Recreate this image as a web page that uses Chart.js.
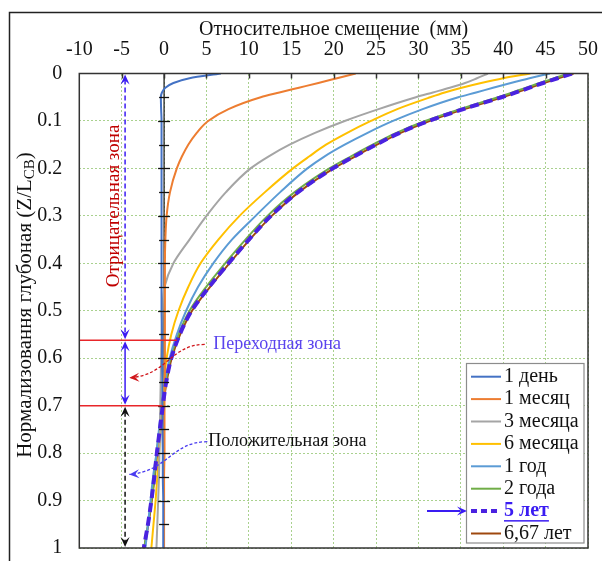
<!DOCTYPE html>
<html lang="ru">
<head>
<meta charset="utf-8">
<title>Относительное смещение</title>
<script src="https://cdn.jsdelivr.net/npm/chart.js@4.4.1/dist/chart.umd.min.js"></script>
<style>
    html, body { margin: 0; padding: 0; background: #fff; }
    #wrap { position: relative; width: 602px; height: 561px; }
</style>
</head>
<body>
<div id="wrap"><canvas id="displacementChart" width="602" height="561"></canvas></div>
<script>
    // Normalized depth Z/L_CB (shared by every curve)
    var depth = [0, 0.01, 0.02, 0.03, 0.04, 0.05, 0.075, 0.1, 0.125, 0.15, 0.175, 0.2,
        0.25, 0.3, 0.35, 0.4, 0.45, 0.5, 0.55, 0.6, 0.65, 0.7, 0.75, 0.8, 0.85, 0.9, 0.95, 1];

    // Relative displacement, mm
    var day1 = [6.7, 3.0, 1.1, 0.15, -0.25, -0.38, -0.35, -0.3, -0.3, -0.3, -0.3, -0.3,
        -0.3, -0.3, -0.3, -0.3, -0.3, -0.3, -0.25, -0.25, -0.2, -0.2, -0.2, -0.15, -0.15, -0.1, -0.1, -0.1];
    var month1 = [22.6, 20.4, 18.2, 15.9, 13.6, 11.4, 7.6, 5.2, 3.85, 2.85, 2.1, 1.5,
        0.7, 0.3, 0.15, 0.1, 0.1, 0.1, 0.1, 0.1, 0.1, 0.05, 0.05, 0.05, 0, 0, 0, 0];
    var month3 = [38.2, 36.9, 35.5, 33.7, 31.7, 29.7, 25.3, 21.3, 17.8, 14.8, 12.3, 10.2,
        7.3, 5.0, 3.0, 1.1, 0.05, -0.2, -0.3, -0.35, -0.4, -0.45, -0.5, -0.55, -0.6, -0.7, -0.8, -0.9];
    var month6 = [43.2, 40.0, 37.4, 35.1, 33.1, 31.4, 27.5, 24.4, 21.6, 19.1, 17.1, 15.2,
        11.9, 8.9, 6.4, 4.3, 2.85, 1.7, 0.85, 0.3, 0.0, -0.2, -0.4, -0.6, -0.8, -1.0, -1.25, -1.5];
    var year1 = [45.5, 43.1, 40.9, 38.8, 36.8, 34.7, 30.5, 27.0, 24.0, 21.3, 18.9, 16.9,
        13.7, 10.8, 8.0, 5.8, 4.0, 2.6, 1.5, 0.65, 0.1, -0.3, -0.6, -0.9, -1.3, -1.6, -1.9, -2.2];
    var year2 = [47.7, 46.0, 44.3, 42.7, 41.1, 39.4, 34.9, 30.8, 27.4, 24.6, 22.0, 19.5,
        15.4, 12.2, 9.6, 7.2, 4.95, 3.0, 1.7, 0.75, 0.2, -0.2, -0.55, -0.9, -1.15, -1.5, -1.9, -2.35];
    var year5 = [48.1, 46.4, 44.7, 43.1, 41.5, 39.8, 35.3, 31.2, 27.8, 25.0, 22.4, 19.9,
        15.8, 12.6, 10.0, 7.6, 5.3, 3.25, 1.85, 0.85, 0.25, -0.15, -0.5, -0.85, -1.15, -1.5, -1.9, -2.4];
    var year667 = [48.3, 46.5, 44.8, 43.2, 41.6, 39.9, 35.4, 31.3, 27.9, 25.1, 22.5, 20.0,
        15.9, 12.7, 10.1, 7.7, 5.4, 3.3, 1.9, 0.9, 0.3, -0.1, -0.45, -0.8, -1.1, -1.45, -1.85, -2.35];

    var seriesLabels = ['1 день', '1 месяц', '3 месяца', '6 месяца', '1 год', '2 года', '5 лет', '6,67 лет'];
    var seriesValues = [day1, month1, month3, month6, year1, year2, year5, year667];
    var seriesColors = ['#4472c4', '#ed7d31', '#a5a5a5', '#ffc000', '#5b9bd5', '#70ad47', '#4a22e0', '#9e480e'];

    // Axis ticks
    var xMin = -10, xMax = 50, xStep = 5;
    var yMin = 0, yMax = 1, yStep = 0.1;

    // Zone markers: boundaries and label positions, in data units
    var zoneBounds = [0.562, 0.7];
    var zoneArrowX = -4.6;

    var SERIF = "'Liberation Serif', 'Times New Roman', serif";
    var ARROW_BLUE = '#3a1cf2';

    function toPoints(values) {
        return values.map(function(v, i) { return { x: v, y: depth[i] }; });
    }

    var datasets = seriesValues.map(function(values, i) {
        var isFiveYears = seriesLabels[i] === '5 лет';
        return {
            label: seriesLabels[i],
            data: toPoints(values),
            borderColor: seriesColors[i],
            borderWidth: isFiveYears ? 4 : 2,
            borderDash: isFiveYears ? [9, 5] : [],
            pointRadius: 0,
            cubicInterpolationMode: 'monotone',
            fill: false,
            order: isFiveYears ? 0 : 1
        };
    });

    // Excel-like stealth arrow head with its tip at (x, y)
    function arrowHead(ctx, x, y, angle, color) {
        ctx.save();
        ctx.translate(x, y);
        ctx.rotate(angle);
        ctx.beginPath();
        ctx.moveTo(0, 0);
        ctx.lineTo(-10, -4.5);
        ctx.lineTo(-6, 0);
        ctx.lineTo(-10, 4.5);
        ctx.closePath();
        ctx.fillStyle = color;
        ctx.fill();
        ctx.restore();
    }

    function doubleArrow(ctx, x, y1, y2, color, dash) {
        ctx.save();
        ctx.strokeStyle = color;
        ctx.lineWidth = 1.5;
        ctx.setLineDash(dash);
        ctx.beginPath();
        ctx.moveTo(x, y1 + 5);
        ctx.lineTo(x, y2 - 5);
        ctx.stroke();
        ctx.restore();
        arrowHead(ctx, x, y1, -Math.PI / 2, color);
        arrowHead(ctx, x, y2, Math.PI / 2, color);
    }

    function curvedArrow(ctx, pts, color) {
        ctx.save();
        ctx.strokeStyle = color;
        ctx.lineWidth = 1.3;
        ctx.setLineDash([3, 2]);
        ctx.beginPath();
        ctx.moveTo(pts[0][0], pts[0][1]);
        ctx.bezierCurveTo(pts[1][0], pts[1][1], pts[2][0], pts[2][1], pts[3][0], pts[3][1]);
        ctx.stroke();
        ctx.restore();
        var ang = Math.atan2(pts[3][1] - pts[2][1], pts[3][0] - pts[2][0]);
        arrowHead(ctx, pts[3][0], pts[3][1], ang, color);
    }

    var backgroundPlugin = {
        id: 'plotBackground',
        beforeDatasetsDraw: function(chart) {
            var ctx = chart.ctx, xs = chart.scales.x, ys = chart.scales.y;
            var x0 = xs.getPixelForValue(0);
            // vertical axis through zero displacement
            ctx.save();
            ctx.strokeStyle = '#222';
            ctx.lineWidth = 1.3;
            ctx.beginPath();
            ctx.moveTo(x0, ys.top);
            ctx.lineTo(x0, ys.bottom);
            ctx.stroke();
            ctx.restore();
        }
    };

    var overlayPlugin = {
        id: 'overlay',
        afterDatasetsDraw: function(chart) {
            var ctx = chart.ctx, xs = chart.scales.x, ys = chart.scales.y;
            var area = chart.chartArea;
            var px = function(v) { return xs.getPixelForValue(v); };
            var py = function(v) { return ys.getPixelForValue(v); };
            var i;

            ctx.save();

            // ticks on the zero axis
            var x0 = px(0);
            ctx.strokeStyle = '#111';
            ctx.lineWidth = 1.3;
            for (i = 1; i < 20; i++) {
                var half = (i % 2 === 0) ? 6 : 5;
                var ty = Math.round(py(i * 0.05)) + 0.5;
                ctx.beginPath();
                ctx.moveTo(x0 - half, ty);
                ctx.lineTo(x0 + half, ty);
                ctx.stroke();
            }

            // zone boundaries
            ctx.strokeStyle = '#e8262a';
            ctx.lineWidth = 1.5;
            ctx.beginPath();
            ctx.moveTo(area.left, py(zoneBounds[0]));
            ctx.lineTo(px(1.5), py(zoneBounds[0]));
            ctx.moveTo(area.left, py(zoneBounds[1]));
            ctx.lineTo(px(-0.2), py(zoneBounds[1]));
            ctx.stroke();

            // zone arrows
            var ax = px(zoneArrowX);
            doubleArrow(ctx, ax, py(0) + 1, py(zoneBounds[0]) - 1, ARROW_BLUE, [5, 3]);
            doubleArrow(ctx, ax, py(zoneBounds[0]) + 1, py(zoneBounds[1]) - 1, ARROW_BLUE, []);
            doubleArrow(ctx, ax, py(zoneBounds[1]) + 1, py(1) - 1, '#111', [5, 3]);

            // pointers from the zone captions
            curvedArrow(ctx, [[px(4.8), py(0.571)], [px(0.7), py(0.571)], [px(0.4), py(0.637)], [px(-4.1), py(0.641)]], '#d0161b');
            curvedArrow(ctx, [[px(5.1), py(0.776)], [px(0.9), py(0.776)], [px(0.4), py(0.839)], [px(-4.1), py(0.845)]], '#4a3cf0');

            // zone captions
            ctx.font = '18px ' + SERIF;
            ctx.textBaseline = 'middle';
            ctx.textAlign = 'left';
            ctx.fillStyle = '#5a44ee';
            ctx.fillText('Переходная зона', px(5.8), py(0.571));
            ctx.fillStyle = '#111';
            ctx.fillText('Положительная зона', px(5.2), py(0.776));

            ctx.save();
            ctx.translate(px(-5.9), py(0.279));
            ctx.rotate(-Math.PI / 2);
            ctx.textAlign = 'center';
            ctx.font = '19px ' + SERIF;
            ctx.fillStyle = '#c00000';
            ctx.fillText('Отрицательная зона', 0, 0);
            ctx.restore();

            // plot frame and top ticks
            ctx.strokeStyle = '#333';
            ctx.lineWidth = 1.5;
            ctx.setLineDash([]);
            ctx.strokeRect(area.left, area.top, area.right - area.left, area.bottom - area.top);
            for (var v = xMin + xStep; v < xMax; v += xStep) {
                var tx = Math.round(px(v)) + 0.5;
                ctx.beginPath();
                ctx.moveTo(tx, area.top);
                ctx.lineTo(tx, area.top + 5);
                ctx.stroke();
            }

            ctx.restore();
        },
        afterDraw: function(chart) {
            var ctx = chart.ctx;
            ctx.save();

            // outer frame
            ctx.strokeStyle = '#222';
            ctx.lineWidth = 1.5;
            ctx.strokeRect(9.5, 12.5, 700, 700);

            // vertical axis title with subscript
            ctx.translate(25, 305);
            ctx.rotate(-Math.PI / 2);
            ctx.fillStyle = '#111';
            ctx.textBaseline = 'middle';
            var main = 'Нормализовання глубоная (Z/L';
            var sub = 'CB';
            ctx.font = '21px ' + SERIF;
            var wMain = ctx.measureText(main).width;
            var wClose = ctx.measureText(')').width;
            ctx.font = '15px ' + SERIF;
            var wSub = ctx.measureText(sub).width;
            var start = -(wMain + wSub + wClose) / 2;
            ctx.font = '21px ' + SERIF;
            ctx.textAlign = 'left';
            ctx.fillText(main, start, 0);
            ctx.font = '15px ' + SERIF;
            ctx.fillText(sub, start + wMain, 5);
            ctx.font = '21px ' + SERIF;
            ctx.fillText(')', start + wMain + wSub, 0);
            ctx.restore();

            // legend
            ctx.save();
            var lx = 466.5, ly = 363.5, lw = 117.5, lh = 179.5;
            ctx.fillStyle = '#fff';
            ctx.fillRect(lx, ly, lw, lh);
            ctx.strokeStyle = '#8c8c8c';
            ctx.lineWidth = 1.2;
            ctx.strokeRect(lx, ly, lw, lh);
            ctx.textBaseline = 'middle';
            ctx.textAlign = 'left';
            chart.data.datasets.forEach(function(ds, i) {
                var y = 376.7 + 22.4 * i;
                ctx.save();
                ctx.strokeStyle = ds.borderColor;
                ctx.lineWidth = ds.borderWidth;
                ctx.setLineDash(ds.borderDash.length ? [6, 4] : []);
                ctx.beginPath();
                ctx.moveTo(471, y);
                ctx.lineTo(501, y);
                ctx.stroke();
                ctx.restore();
                if (ds.label === '5 лет') {
                    ctx.font = 'bold 20px ' + SERIF;
                    ctx.fillStyle = ARROW_BLUE;
                    ctx.fillText(ds.label, 504, y);
                    var w = ctx.measureText(ds.label).width;
                    ctx.fillRect(504, y + 9, w, 1.5);
                    // pointer to the highlighted series
                    ctx.strokeStyle = ARROW_BLUE;
                    ctx.lineWidth = 2;
                    ctx.beginPath();
                    ctx.moveTo(427, y);
                    ctx.lineTo(460, y);
                    ctx.stroke();
                    arrowHead(ctx, 467, y, 0, ARROW_BLUE);
                } else {
                    ctx.font = '20px ' + SERIF;
                    ctx.fillStyle = '#111';
                    ctx.fillText(ds.label, 504, y);
                }
            });
            ctx.restore();
        }
    };

    var ctx = document.getElementById('displacementChart').getContext('2d');
    var chart = new Chart(ctx, {
        type: 'line',
        data: { datasets: datasets },
        options: {
            indexAxis: 'y',
            responsive: false,
            animation: false,
            devicePixelRatio: 1,
            layout: { padding: { left: 0, top: 0, right: 14, bottom: 13 } },
            plugins: {
                legend: { display: false },
                tooltip: { enabled: false }
            },
            scales: {
                x: {
                    type: 'linear',
                    position: 'top',
                    min: xMin,
                    max: xMax,
                    afterFit: function(scale) {
                        scale.height = 73.5;
                        scale.paddingLeft = 0;
                        scale.paddingRight = 0;
                    },
                    ticks: {
                        stepSize: xStep,
                        color: '#111',
                        padding: 12,
                        font: { family: SERIF, size: 20 }
                    },
                    title: {
                        display: true,
                        text: 'Относительное смещение  (мм)',
                        color: '#111',
                        font: { family: SERIF, size: 20 },
                        padding: { top: 18, bottom: 0 }
                    },
                    grid: {
                        color: '#a9d18e',
                        lineWidth: 1,
                        drawTicks: false
                    },
                    border: { display: false, dash: [2, 2] }
                },
                y: {
                    type: 'linear',
                    position: 'left',
                    reverse: true,
                    min: yMin,
                    max: yMax,
                    afterFit: function(scale) {
                        scale.width = 79.3;
                        scale.paddingTop = 0;
                        scale.paddingBottom = 0;
                    },
                    ticks: {
                        stepSize: yStep,
                        color: '#111',
                        padding: 17,
                        font: { family: SERIF, size: 20 },
                        callback: function(value) {
                            var v = Math.round(value * 10) / 10;
                            return (v === 0 || v === 1) ? String(v) : v.toFixed(1);
                        }
                    },
                    grid: {
                        color: '#a9d18e',
                        lineWidth: 1,
                        drawTicks: false
                    },
                    border: { display: false, dash: [2, 2] }
                }
            }
        },
        plugins: [backgroundPlugin, overlayPlugin]
    });
</script>
</body>
</html>
